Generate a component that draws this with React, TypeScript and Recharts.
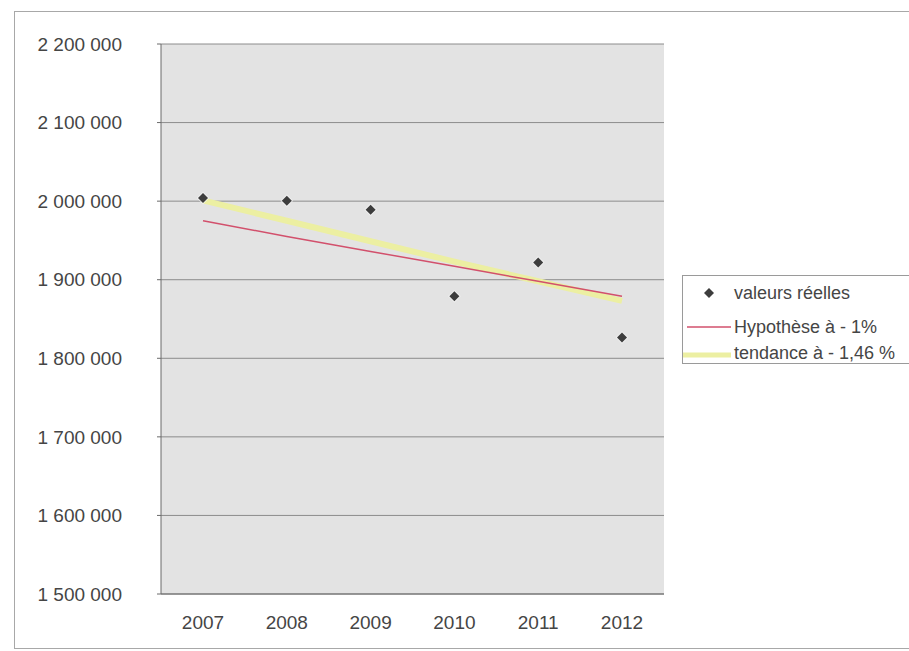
import React from "react";
import {
  ComposedChart,
  Line,
  XAxis,
  YAxis,
  CartesianGrid,
} from "recharts";

const years = ["2007", "2008", "2009", "2010", "2011", "2012"];
const valeursReelles = [2004000, 2000500, 1989000, 1879000, 1922000, 1826500];
const hypothese = [1975000, 1955000, 1936000, 1917000, 1898000, 1879000];
const tendance = [2001000, 1975000, 1949000, 1923000, 1898000, 1873000];
const yTicks = [1500000, 1600000, 1700000, 1800000, 1900000, 2000000, 2100000, 2200000];

const legendLabels = ["valeurs réelles", "Hypothèse à - 1%", "tendance à - 1,46 %"];

const FONT = "'Liberation Sans', Arial, sans-serif";
const TEXT = "#454545";
const RED = "#d2506c";
const YELLOW = "#ecefa2";
const MARKER = "#3d3d3d";

const data = years.map((year, i) => ({
  year,
  reel: valeursReelles[i],
  hyp: hypothese[i],
  tend: tendance[i],
}));

// French thousands grouping: 2 200 000
function formatFr(v: number): string {
  return String(v).replace(/\B(?=(\d{3})+(?!\d))/g, " ");
}

function Diamond(props: any) {
  const { cx, cy } = props;
  if (cx == null || cy == null) return null;
  const r = 5;
  return (
    <polygon
      points={`${cx},${cy - r} ${cx + r},${cy} ${cx},${cy + r} ${cx - r},${cy}`}
      fill={MARKER}
      stroke="#f4f4f4"
      strokeOpacity={0.7}
      strokeWidth={2}
      paintOrder="stroke"
    />
  );
}

function LegendBox() {
  const row: React.CSSProperties = {
    position: "absolute",
    left: 0,
    height: 30,
    display: "flex",
    alignItems: "center",
  };
  const label: React.CSSProperties = {
    position: "absolute",
    left: 51,
    whiteSpace: "nowrap",
    fontSize: 18,
    color: TEXT,
    fontFamily: FONT,
  };
  return (
    <div
      style={{
        position: "absolute",
        left: 682,
        top: 275,
        width: 227,
        height: 87,
        borderTop: "1px solid #9a9a9a",
        borderLeft: "1px solid #9a9a9a",
        borderBottom: "1px solid #9a9a9a",
        overflow: "hidden",
        background: "#fff",
      }}
    >
      <div style={{ ...row, top: 2 }}>
        <svg width={50} height={30} style={{ position: "absolute", left: 0 }}>
          <polygon points="26,10 31,15 26,20 21,15" fill={MARKER} />
        </svg>
        <span style={label}>{legendLabels[0]}</span>
      </div>
      <div style={{ ...row, top: 36 }}>
        <svg width={50} height={30} style={{ position: "absolute", left: 0 }}>
          <line x1={4} y1={15} x2={48} y2={15} stroke={RED} strokeWidth={1.5} />
        </svg>
        <span style={label}>{legendLabels[1]}</span>
      </div>
      <div style={{ ...row, top: 62 }}>
        <svg width={50} height={30} style={{ position: "absolute", left: 0 }}>
          <line x1={0} y1={17} x2={48} y2={17} stroke={YELLOW} strokeWidth={5} />
        </svg>
        <span style={label}>{legendLabels[2]}</span>
      </div>
    </div>
  );
}

export default function App() {
  return (
    <div
      style={{
        position: "absolute",
        left: 0,
        top: 0,
        width: 909,
        height: 651,
        overflow: "hidden",
        background: "#fff",
        fontFamily: FONT,
      }}
    >
      {/* outer chart frame */}
      <div
        style={{
          position: "absolute",
          left: 14,
          top: 11,
          width: 895,
          height: 636,
          borderTop: "1px solid #a8a8a8",
          borderLeft: "1px solid #a8a8a8",
          borderBottom: "1px solid #a8a8a8",
        }}
      />
      <div style={{ position: "absolute", left: 0, top: 0 }}>
        <ComposedChart
          width={909}
          height={651}
          data={data}
          margin={{ top: 44, right: 245, bottom: 27, left: 0 }}
        >
          <CartesianGrid
            vertical={false}
            stroke="#8c8c8c"
            strokeWidth={1}
            fill="#e3e3e3"
            fillOpacity={1}
          />
          <XAxis
            dataKey="year"
            height={30}
            padding={{ left: 42, right: 42 }}
            tickSize={0}
            tickMargin={22}
            tick={{ fontSize: 19, fill: TEXT, fontFamily: FONT }}
            axisLine={{ stroke: "#6a6a6a" }}
          />
          <YAxis
            width={161}
            domain={[1500000, 2200000]}
            ticks={yTicks}
            tickFormatter={formatFr}
            tickSize={4}
            tickMargin={35}
            tick={{ fontSize: 19, fill: TEXT, fontFamily: FONT }}
            tickLine={{ stroke: "#6a6a6a" }}
            axisLine={{ stroke: "#6a6a6a" }}
            allowDataOverflow
          />
          <YAxis
            yAxisId="frame"
            orientation="right"
            width={0}
            tick={false}
            tickLine={false}
            axisLine={{ stroke: "#6a6a6a" }}
          />
          <Line
            dataKey="tend"
            stroke={YELLOW}
            strokeWidth={6}
            dot={false}
            isAnimationActive={false}
          />
          <Line
            dataKey="hyp"
            stroke={RED}
            strokeWidth={1.5}
            dot={false}
            isAnimationActive={false}
          />
          <Line
            dataKey="reel"
            stroke="none"
            dot={<Diamond />}
            activeDot={false}
            isAnimationActive={false}
          />
        </ComposedChart>
      </div>
      <LegendBox />
    </div>
  );
}
